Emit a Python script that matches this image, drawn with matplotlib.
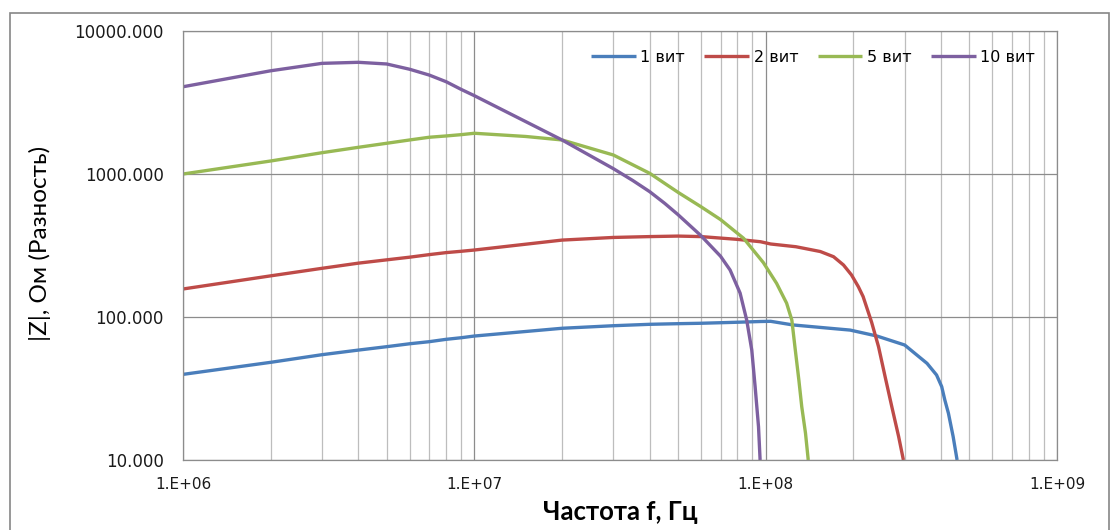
'''
|Z| vs frequency for coils with 1, 2, 5 and 10 turns (log-log).
'''

import matplotlib; matplotlib.use('Agg')  # noqa
import matplotlib.pyplot as plt
from matplotlib.patches import Rectangle
from matplotlib.ticker import LogLocator, FixedLocator, FixedFormatter, NullFormatter

# 1 turn
f_1 = [1e6, 2e6, 3e6, 4e6, 5e6, 6e6, 7e6, 8e6, 9e6, 1e7, 2e7, 3e7, 4e7, 5e7, 6e7,
       8e7, 9.6e7, 1.04e8, 1.24e8, 1.66e8, 1.95e8, 2.41e8, 3.0e8, 3.58e8, 3.86e8,
       4.02e8, 4.12e8, 4.24e8, 4.40e8, 4.54e8]
z_1 = [39.7, 48.2, 54.5, 58.7, 62.0, 65.0, 67.2, 69.8, 71.6, 73.6, 83.4, 86.9, 88.9,
       89.8, 90.4, 91.9, 93.0, 93.3, 88.0, 83.4, 81.0, 73.6, 63.7, 47.4, 39.3,
       32.6, 26.3, 21.2, 14.6, 10.0]

# 2 turns
f_2 = [1e6, 2e6, 3e6, 4e6, 5e6, 6e6, 7e6, 8e6, 9e6, 1e7, 2e7, 3e7, 4e7, 5e7, 6e7,
       8e7, 9.6e7, 1.04e8, 1.27e8, 1.54e8, 1.71e8, 1.85e8, 1.97e8, 2.08e8, 2.16e8,
       2.31e8, 2.44e8, 2.57e8, 2.71e8, 2.86e8, 2.97e8]
z_2 = [157, 194, 219, 238, 251, 262, 273, 282, 288, 294, 345, 360, 365, 368, 365,
       349, 336, 324, 310, 287, 264, 231, 197, 163, 139, 92, 62, 38.3, 23.6, 14.6,
       10.0]

# 5 turns
f_5 = [1e6, 2e6, 3e6, 4e6, 5e6, 6e6, 7e6, 8e6, 9e6, 1e7, 1.5e7, 2e7, 3e7, 4e7, 5e7,
       6e7, 7e7, 8.4e7, 9.82e7, 1.09e8, 1.18e8, 1.23e8, 1.26e8, 1.30e8, 1.33e8,
       1.37e8, 1.40e8]
z_5 = [1000, 1233, 1409, 1537, 1640, 1730, 1807, 1845, 1884, 1927, 1830, 1730, 1358,
       1011, 745, 590, 480, 355, 240, 172, 125, 95, 62, 36.2, 23.6, 15.4, 10.0]

# 10 turns
f_10 = [1e6, 2e6, 3e6, 4e6, 5e6, 6e6, 7e6, 8e6, 9e6, 1e7, 2e7, 3e7, 3.5e7, 4e7,
        4.5e7, 5e7, 6e7, 7e7, 7.55e7, 8.17e7, 8.61e7, 8.96e7, 9.2e7, 9.45e7, 9.57e7]
z_10 = [4075, 5270, 5940, 6040, 5880, 5400, 4920, 4420, 3910, 3530, 1730, 1090,
        900, 752, 624, 520, 370, 266, 213, 147, 95, 58.7, 32.6, 17.1, 10.0]

series = [
    (f_1, z_1, '1 вит', '#4A7EBB'),
    (f_2, z_2, '2 вит', '#BE4B48'),
    (f_5, z_5, '5 вит', '#98B954'),
    (f_10, z_10, '10 вит', '#7D60A0'),
]

y_ticks = [10, 100, 1000, 10000]
y_labels = ['10.000', '100.000', '1000.000', '10000.000']
x_ticks = [1e6, 1e7, 1e8, 1e9]
x_labels = ['1.E+06', '1.E+07', '1.E+08', '1.E+09']

W, H = 1111, 530
fig = plt.figure(figsize=(W / 100, H / 100), dpi=100)

# chart area frame
fig.patches.append(Rectangle((10 / W, -0.1), 1099 / W, 1.1 - 13 / H,
                             transform=fig.transFigure, fill=False,
                             edgecolor='#868686', linewidth=1.2))

ax = fig.add_axes([183 / W, 1 - 460 / H, 874 / W, 429 / H])
for f, z, name, color in series:
    ax.plot(f, z, color=color, linewidth=2.4, label=name,
            solid_joinstyle='round', solid_capstyle='butt')

ax.set_xscale('log')
ax.set_yscale('log')
ax.set_xlim(1e6, 1e9)
ax.set_ylim(10, 10000)

ax.xaxis.set_major_locator(FixedLocator(x_ticks))
ax.xaxis.set_major_formatter(FixedFormatter(x_labels))
ax.xaxis.set_minor_locator(LogLocator(base=10, subs=range(2, 10), numticks=20))
ax.xaxis.set_minor_formatter(NullFormatter())
ax.yaxis.set_major_locator(FixedLocator(y_ticks))
ax.yaxis.set_major_formatter(FixedFormatter(y_labels))
ax.yaxis.set_minor_locator(FixedLocator([]))

ax.grid(which='major', axis='both', color='#8C8C8C', linewidth=0.9)
ax.grid(which='minor', axis='x', color='#BDBDBD', linewidth=0.9)
ax.set_axisbelow(True)
for s in ax.spines.values():
    s.set_color('#8C8C8C')
    s.set_linewidth(0.9)

ax.tick_params(which='both', length=0)
ax.tick_params(axis='y', pad=14, labelsize=12, labelcolor='#1a1a1a')
ax.tick_params(axis='x', pad=12, labelsize=11, labelcolor='#1a1a1a')

ax.set_xlabel('Частота f, Гц', fontsize=18.5, fontweight='bold', family='Lato',
              labelpad=6)
fig.text(40 / W, 1 - 243 / H, '|Z|, Ом (Разность)', rotation=90, fontsize=17.5,
         family='Lato', ha='center', va='center')

ax.legend(loc='center', bbox_to_anchor=(813 / W, 1 - 57 / H),
          bbox_transform=fig.transFigure, ncol=4, frameon=False, fontsize=11.5,
          handlelength=2.8, handletextpad=0.3, columnspacing=1.2,
          borderaxespad=0)

fig.savefig('out.png', dpi=100)
